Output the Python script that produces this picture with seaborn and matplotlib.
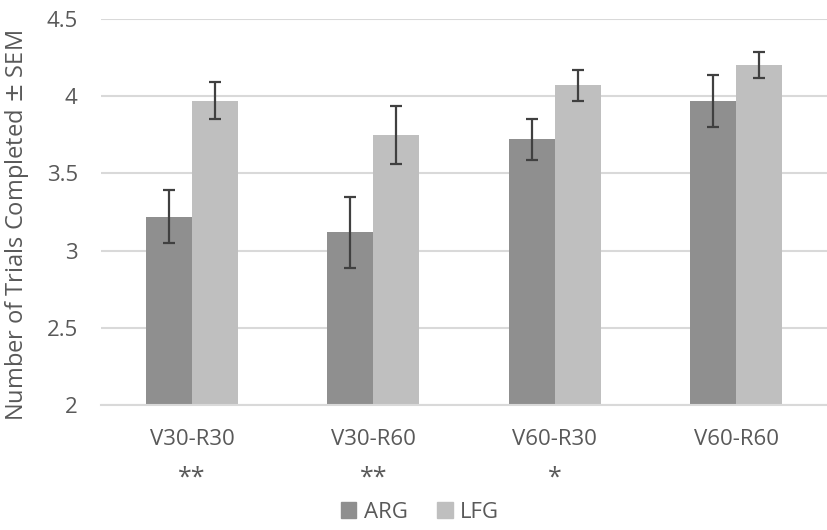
import numpy as np
import pandas as pd
import matplotlib
matplotlib.use("Agg")
import matplotlib.pyplot as plt
import seaborn as sns

# valores
condicoes = ["V30-R30", "V30-R60", "V60-R30", "V60-R60"]
media_arg = [3.22, 3.12, 3.72, 3.97]
media_lfg = [3.97, 3.75, 4.07, 4.20]
sem_arg = [0.17, 0.23, 0.13, 0.17]
sem_lfg = [0.12, 0.19, 0.10, 0.085]
significancia = ["**", "**", "*", ""]
grupos = ["ARG", "LFG"]
cores = ["#8f8f8f", "#bfbfbf"]

sns.set_style("white")
plt.rcParams['font.family'] = ['Open Sans', 'DejaVu Sans']
cor_texto = "#595959"

df = pd.DataFrame({
    "condicao": condicoes * 2,
    "grupo": ["ARG"] * 4 + ["LFG"] * 4,
    "media": media_arg + media_lfg,
    "sem": sem_arg + sem_lfg,
})

fig = plt.figure(figsize=(8.27, 5.30), dpi=100)
ax = fig.add_axes([0.1225, 0.236, 0.8775, 0.728])

sns.barplot(data=df, x="condicao", y="media", hue="grupo", palette=cores,
            width=0.507, errorbar=None, ax=ax, legend=False, zorder=2,
            linewidth=0)

# barras de erro a partir das posições das barras
for cont, sems in zip(ax.containers, [sem_arg, sem_lfg]):
    xs = [p.get_x() + p.get_width() / 2 for p in cont.patches]
    ys = [p.get_height() + p.get_y() for p in cont.patches]
    ax.errorbar(xs, ys, yerr=sems, fmt="none", ecolor="#404040",
                elinewidth=1.6, capsize=4.5, capthick=1.6, zorder=3)

ax.set_xlim(-0.5, len(condicoes) - 0.5)
ax.set_ylim(2, 4.5)
ax.set_yticks(np.arange(2, 4.51, 0.5))
ax.set_yticklabels(["2", "2.5", "3", "3.5", "4", "4.5"])
ax.yaxis.grid(True, color="#d9d9d9", linewidth=1.5, zorder=0)
ax.set_axisbelow(True)
for lado in ["top", "right", "left"]:
    ax.spines[lado].set_visible(False)
ax.spines["bottom"].set_color("#d9d9d9")
ax.spines["bottom"].set_linewidth(1.5)
ax.tick_params(axis="both", length=0, labelsize=16, colors=cor_texto)
ax.tick_params(axis="y", pad=17)
ax.tick_params(axis="x", pad=17)
ax.set_xlabel("")
ax.set_ylabel("Number of Trials Completed $\\pm$ SEM", fontsize=17,
              color=cor_texto)
ax.yaxis.set_label_coords(-0.097, 0.465)

for i, s in enumerate(significancia):
    if s:
        ax.text(i, -0.19, s, transform=ax.get_xaxis_transform(), ha="center",
                va="center", fontsize=18, color=cor_texto)

alcas = [plt.Rectangle((0, 0), 1, 1, color=c) for c in cores]
fig.legend(alcas, grupos, loc="center", bbox_to_anchor=(0.508, 0.033), ncol=2,
           frameon=False, fontsize=16, handlelength=0.7, handleheight=0.7,
           columnspacing=1.3, handletextpad=0.35, labelcolor=cor_texto)

fig.savefig("out.png", dpi=100)
